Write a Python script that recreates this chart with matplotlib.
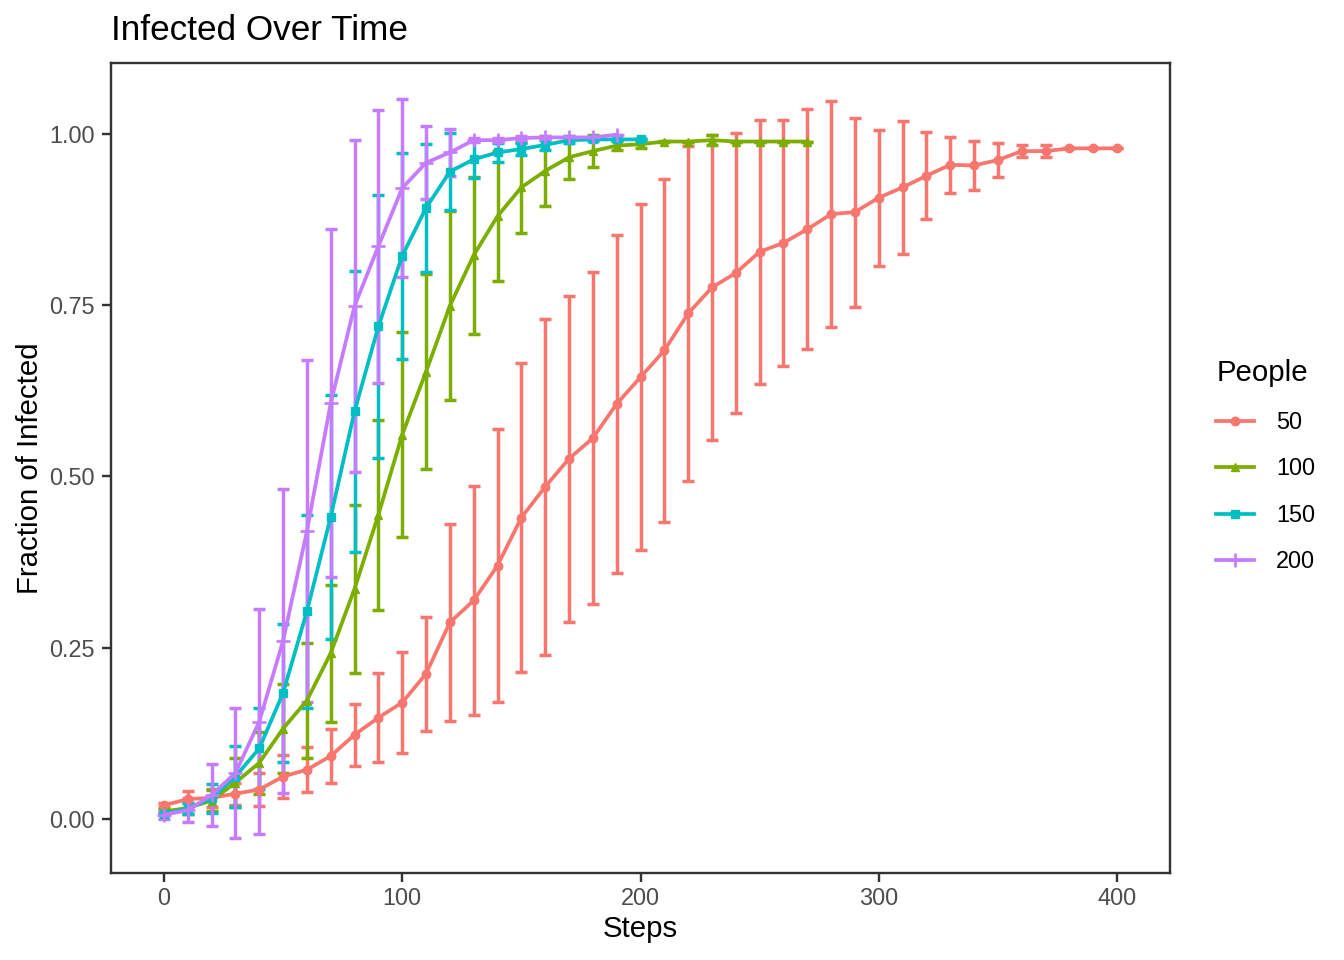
import matplotlib
matplotlib.use("Agg")
import matplotlib.pyplot as plt
import numpy as np

plt.rcParams['font.family'] = ['Liberation Sans', 'DejaVu Sans']

steps_50 = list(range(0, 401, 10))
mean_50 = [0.020, 0.029, 0.031, 0.037, 0.043, 0.062, 0.072, 0.092, 0.123, 0.148,
           0.170, 0.212, 0.287, 0.319, 0.370, 0.440, 0.485, 0.526, 0.556, 0.606,
           0.645, 0.684, 0.738, 0.776, 0.797, 0.828, 0.841, 0.861, 0.883, 0.886,
           0.907, 0.922, 0.939, 0.955, 0.954, 0.962, 0.975, 0.975, 0.979, 0.979, 0.979]
sd_50 = [0.003, 0.0125, 0.013, 0.016, 0.0245, 0.032, 0.033, 0.040, 0.0455, 0.0645,
         0.074, 0.0835, 0.1435, 0.1675, 0.199, 0.226, 0.2455, 0.238, 0.2425, 0.2465,
         0.2525, 0.2505, 0.244, 0.223, 0.205, 0.1925, 0.1795, 0.1755, 0.165, 0.138,
         0.099, 0.0975, 0.0635, 0.0405, 0.0355, 0.0255, 0.009, 0.009, 0.0, 0.0, 0.0]

steps_100 = list(range(0, 271, 10))
mean_100 = [0.011, 0.016, 0.027, 0.053, 0.082, 0.132, 0.173, 0.242, 0.336, 0.444,
            0.561, 0.653, 0.749, 0.823, 0.880, 0.922, 0.946, 0.966, 0.975, 0.983,
            0.985, 0.989, 0.989, 0.991, 0.989, 0.989, 0.989, 0.989]
sd_100 = [0.003, 0.008, 0.0155, 0.036, 0.045, 0.0645, 0.0845, 0.100, 0.1225, 0.1385,
          0.150, 0.1425, 0.138, 0.1145, 0.0945, 0.067, 0.0515, 0.0315, 0.0235, 0.007,
          0.005, 0.001, 0.0, 0.007, 0.0, 0.0, 0.0, 0.0]

steps_150 = list(range(0, 201, 10))
mean_150 = [0.008, 0.015, 0.030, 0.062, 0.103, 0.184, 0.303, 0.441, 0.595, 0.719,
            0.822, 0.892, 0.945, 0.963, 0.973, 0.978, 0.984, 0.991, 0.992, 0.992, 0.992]
sd_150 = [0.002, 0.008, 0.021, 0.044, 0.059, 0.101, 0.141, 0.1775, 0.2055, 0.192,
          0.150, 0.093, 0.0565, 0.027, 0.014, 0.009, 0.007, 0.004, 0.002, 0.001, 0.0]

steps_200 = list(range(0, 191, 10))
mean_200 = [0.006, 0.013, 0.035, 0.067, 0.142, 0.260, 0.420, 0.607, 0.749, 0.836,
            0.921, 0.958, 0.973, 0.991, 0.991, 0.994, 0.995, 0.995, 0.995, 0.999]
sd_200 = [0.006, 0.017, 0.0455, 0.0945, 0.164, 0.2215, 0.2495, 0.254, 0.2425, 0.199,
          0.130, 0.0535, 0.034, 0.003, 0.003, 0.003, 0.002, 0.002, 0.002, 0.0]

people = ["50", "100", "150", "200"]
colors = ["#F8766D", "#7CAE00", "#00BFC4", "#C77CFF"]
markers = ["o", "^", "s", "+"]

series = [(steps_50, mean_50, sd_50), (steps_100, mean_100, sd_100),
          (steps_150, mean_150, sd_150), (steps_200, mean_200, sd_200)]

fig = plt.figure(figsize=(7, 5), dpi=192)
ax = fig.add_axes([111/1344, 1-873/960, (1170-111)/1344, (873-63)/960])

handles = []
for (x, m, s), lab, c, mk in zip(series, people, colors, markers):
    ax.errorbar(x, m, yerr=s, fmt='none', ecolor=c, elinewidth=1.3,
                capsize=2.4, capthick=1.3, zorder=2)
    h, = ax.plot(x, m, color=c, lw=1.4, marker=mk, markersize=3.2 if mk != '+' else 5,
                 markeredgewidth=1.0 if mk == '+' else 0.5, label=lab, zorder=3)
    handles.append(h)

ax.set_xlim(-22.2, 422.2)
ax.set_ylim(-0.0788, 1.1036)
ax.set_xticks([0, 100, 200, 300, 400])
ax.set_yticks([0.0, 0.25, 0.5, 0.75, 1.0])
ax.set_yticklabels(["0.00", "0.25", "0.50", "0.75", "1.00"])
ax.tick_params(axis='both', colors='#333333', length=3.5, width=0.9,
               labelsize=8.8, labelcolor='#4D4D4D')
ax.tick_params(axis='x', pad=1.8)
ax.tick_params(axis='y', pad=2.5)
for sp in ax.spines.values():
    sp.set_color('#333333')
    sp.set_linewidth(0.9)

ax.set_xlabel("Steps", fontsize=11, color='black', labelpad=2)
ax.set_ylabel("Fraction of Infected", fontsize=11, color='black', labelpad=2)

fig.text(111/1344, 1-40/960, "Infected Over Time", fontsize=13.2, ha='left',
         va='baseline', color='black')

leg = fig.legend(handles=handles, labels=people, title="People",
                 loc='upper left', bbox_to_anchor=(1207/1344, 1-350/960),
                 frameon=False, fontsize=8.8, title_fontsize=11,
                 handlelength=1.6, labelspacing=1.0, handletextpad=0.95,
                 borderaxespad=0, alignment='left')

fig.savefig("out.png", dpi=192)
